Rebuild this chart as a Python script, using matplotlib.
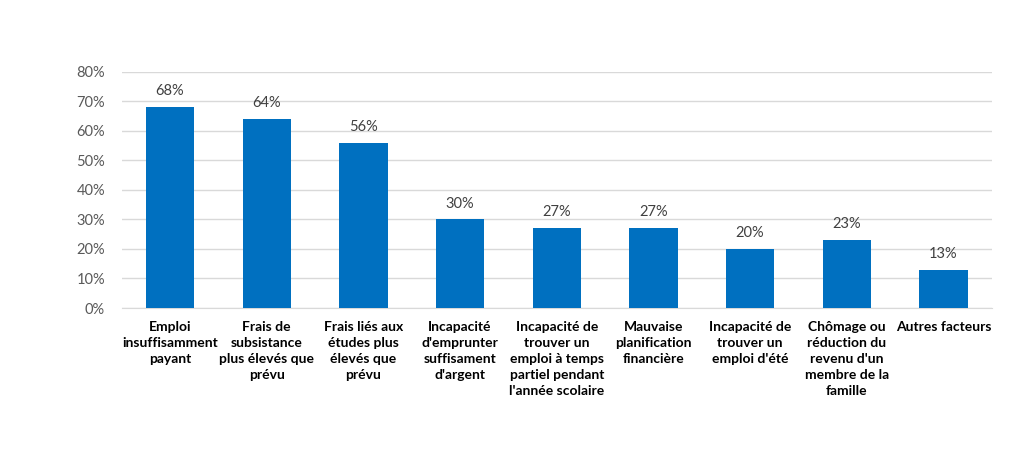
import matplotlib
matplotlib.use("Agg")
import matplotlib.pyplot as plt
from matplotlib.ticker import PercentFormatter

categories = [
    "Emploi\ninsuffisamment\npayant",
    "Frais de\nsubsistance\nplus élevés que\nprévu",
    "Frais liés aux\nétudes plus\nélevés que\nprévu",
    "Incapacité\nd'emprunter\nsuffisament\nd'argent",
    "Incapacité de\ntrouver un\nemploi à temps\npartiel pendant\nl'année scolaire",
    "Mauvaise\nplanification\nfinancière",
    "Incapacité de\ntrouver un\nemploi d'été",
    "Chômage ou\nréduction du\nrevenu d'un\nmembre de la\nfamille",
    "Autres facteurs",
]
values = [68, 64, 56, 30, 27, 27, 20, 23, 13]

plt.rcParams["font.family"] = ["Lato", "DejaVu Sans"]

fig = plt.figure(figsize=(10.31, 4.49), dpi=100)
ax = fig.add_axes([0.118, 0.314, 0.844, 0.526])

x = range(len(values))
bars = ax.bar(x, values, width=0.5, color="#0070C0", zorder=3)
for xi, v in zip(x, values):
    ax.text(xi, v + 3, f"{v}%", ha="center", va="bottom", fontsize=10.5, color="#404040")

ax.set_xlim(-0.5, len(values) - 0.5)
ax.set_ylim(0, 80)
ax.set_yticks(range(0, 81, 10))
ax.yaxis.set_major_formatter(PercentFormatter(decimals=0))
ax.grid(axis="y", color="#d9d9d9", linewidth=1, zorder=0)
for s in ["top", "right", "left"]:
    ax.spines[s].set_visible(False)
ax.spines["bottom"].set_color("#d9d9d9")
ax.tick_params(axis="y", length=0, labelsize=10.5, labelcolor="#595959", pad=12)
ax.tick_params(axis="x", length=0, pad=9)
ax.set_xticks(list(x))
ax.set_xticklabels(categories, fontsize=10, fontweight="bold", color="#000000",
                   va="top", linespacing=1.4)

fig.savefig("out.png", dpi=100, facecolor="white")
